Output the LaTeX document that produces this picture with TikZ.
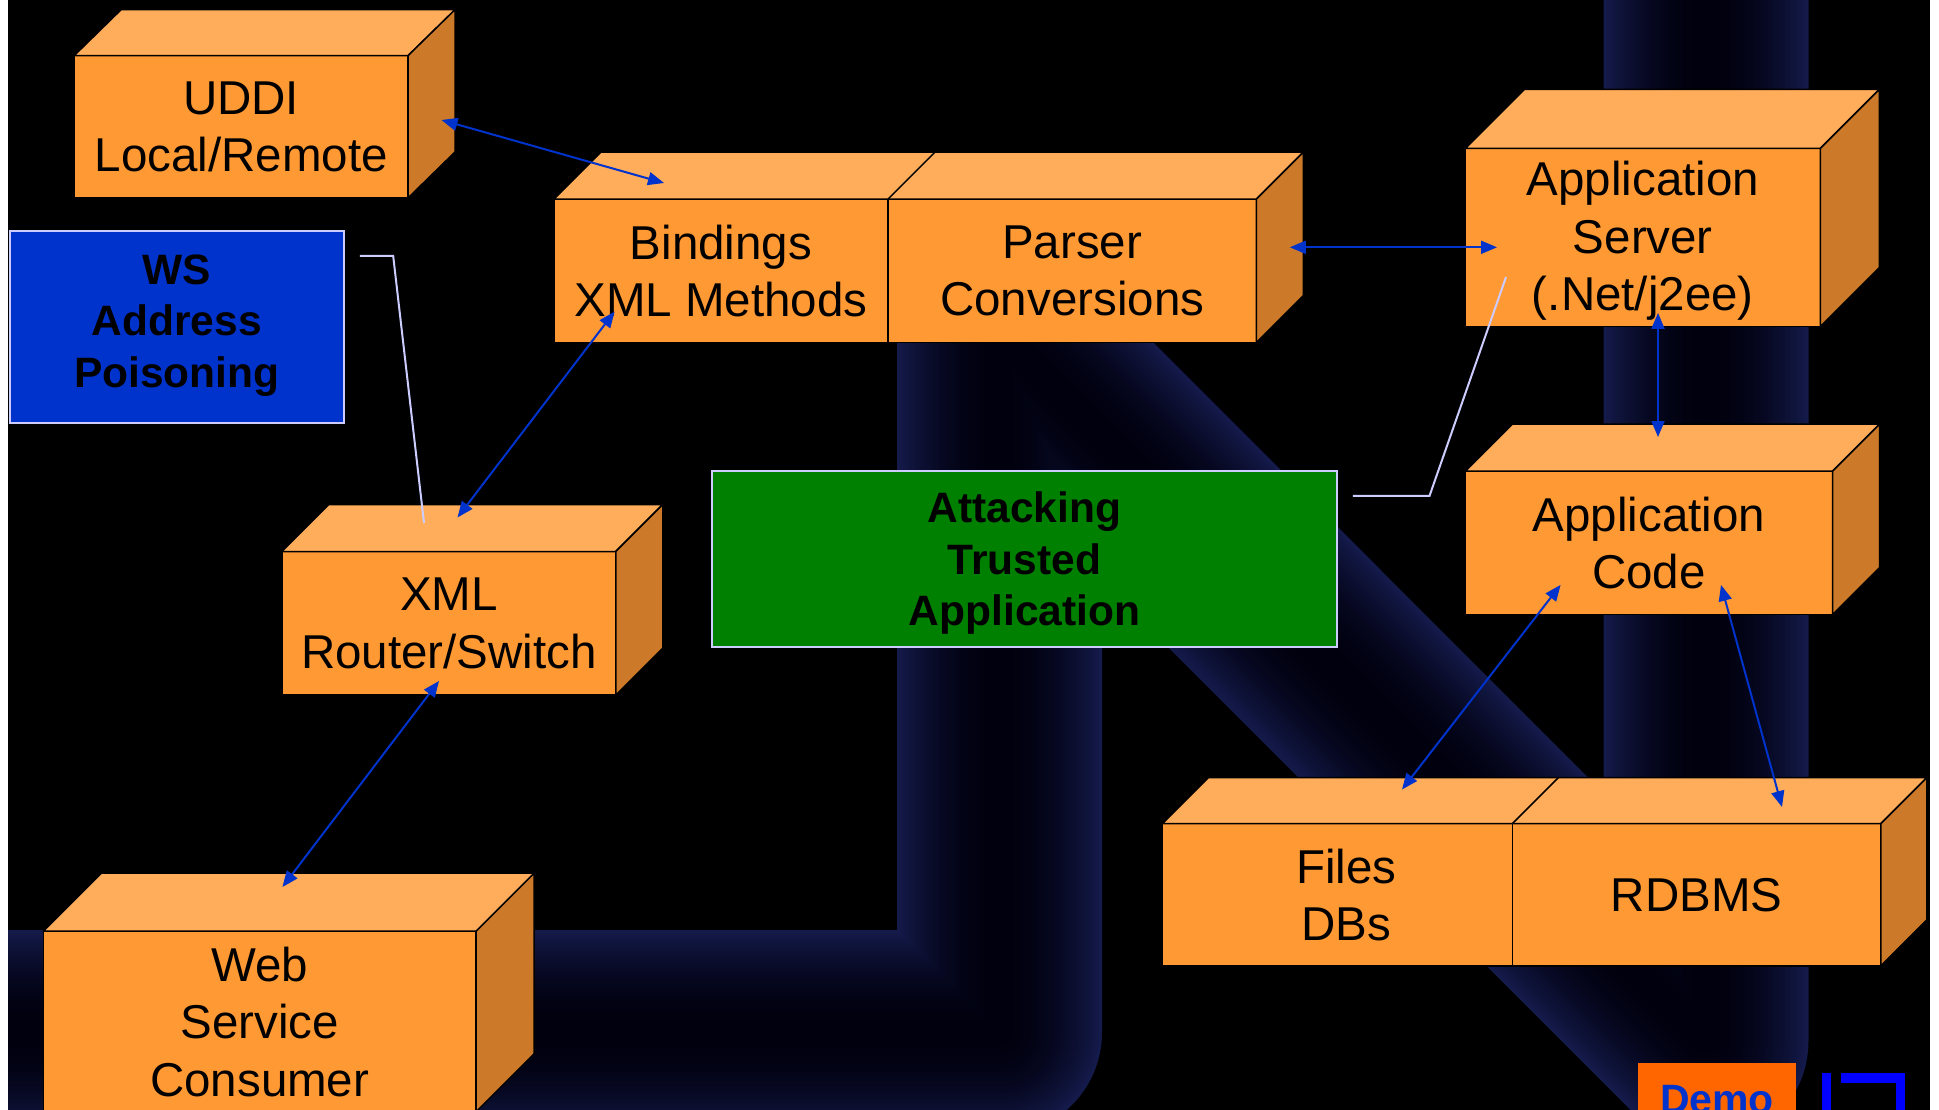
\documentclass[tikz,border=0pt]{standalone}
\usepackage{fontspec}
\setmainfont{Liberation Sans}
\usetikzlibrary{arrows.meta,calc}

\definecolor{pipeEdge}{RGB}{20,26,74}
\definecolor{pipeDark}{RGB}{0,0,14}
\definecolor{faceFront}{RGB}{255,153,51}
\definecolor{faceTop}{RGB}{255,173,91}
\definecolor{faceSide}{RGB}{204,122,41}
\definecolor{linkBlue}{RGB}{0,51,204}
\definecolor{wsBlue}{RGB}{0,51,204}
\definecolor{trustGreen}{RGB}{0,128,0}
\definecolor{noteLine}{RGB}{204,204,255}
\definecolor{demoOrange}{RGB}{255,102,0}
\definecolor{iconBlue}{RGB}{0,0,255}

% last line of a label: keep its descenders out of the centring
\newcommand\lastline[1]{\raisebox{0pt}[\height][0pt]{#1}}

% top and right faces of a cuboid whose front face is node #1, depth (#2,#3)
\newcommand\cubeback[3]{%
  \filldraw[topface] (#1.north west) -- ++(#2,-#3) -- ($(#1.north east)+(#2,-#3)$) -- (#1.north east) -- cycle;
  \filldraw[sideface] (#1.north east) -- ++(#2,-#3) -- ($(#1.south east)+(#2,-#3)$) -- (#1.south east) -- cycle;}

\begin{document}
\begin{tikzpicture}[x=1pt,y=-1pt,
  front/.style={draw=black, line width=1.5pt, fill=faceFront, inner sep=0pt, outer sep=0pt,
    align=center, font=\fontsize{47.5}{57.5}\selectfont},
  topface/.style={draw=black, line width=1.5pt, fill=faceTop, line join=round},
  sideface/.style={draw=black, line width=1.5pt, fill=faceSide, line join=round},
  panel/.style={draw=noteLine, line width=2pt, inner sep=0pt, outer sep=0pt,
    align=center, font=\fontsize{42.5}{51.5}\selectfont\bfseries},
  link/.style={linkBlue, line width=2pt,
    {Triangle[length=16pt,width=13pt]}-{Triangle[length=16pt,width=13pt]}},
  note/.style={noteLine, line width=2pt}]

\useasboundingbox (0,0) rectangle (1939,1110);
\clip (0,0) rectangle (1939,1110);

% slide background
\fill[white] (0,0) rectangle (1939,1110);
\fill[black] (8,0) rectangle (1930,1110);

% shaded tube running behind the diagram
\begin{scope}
  \clip (8,0) rectangle (1930,1110);
  \foreach \k in {0,...,29}{
    \pgfmathsetmacro\r{1-\k/30}
    \pgfmathsetmacro\w{205*\r}
    \pgfmathsetmacro\f{100*\r*\r}
    \draw[line width=\w pt, color=pipeEdge!\f!pipeDark, line join=round, line cap=butt]
      (-60,1032.5) -- (999.5,1032.5) -- (999.5,333.5) -- (1706,1040.5) -- (1706,-60);
  }
\end{scope}

% cuboids
\node[front, minimum width=333.9pt, minimum height=142.3pt] (uddi) at (241.15,126.75)
  {UDDI\\\lastline{Local/Remote}};
\cubeback{uddi}{47}{46}

\node[front, minimum width=334pt, minimum height=143.4pt] (bind) at (721,270.8)
  {Bindings\\\lastline{XML Methods}};
\node[front, minimum width=368.4pt, minimum height=143.4pt] (pars) at (1072.2,270.8)
  {Parser\\\lastline{Conversions}};
\filldraw[topface] (bind.north west) -- ++(47,-47) -- ($(pars.north east)+(47,-47)$) -- (pars.north east) -- cycle;
\draw[topface] (pars.north west) -- ++(47,-47);
\filldraw[sideface] (pars.north east) -- ++(47,-47) -- ($(pars.south east)+(47,-47)$) -- (pars.south east) -- cycle;

\node[front, minimum width=354.9pt, minimum height=178.1pt] (srv) at (1642.85,237.45)
  {Application\\Server\\\raisebox{0pt}[\height][3pt]{(.Net/j2ee)}};
\cubeback{srv}{59}{59}

\node[front, minimum width=367.2pt, minimum height=143.5pt] (code) at (1649,542.85)
  {Application\\\lastline{Code}};
\cubeback{code}{47}{47}

\node[front, minimum width=333.9pt, minimum height=143.5pt] (router) at (448.85,623.25)
  {XML\\\lastline{Router/Switch}};
\cubeback{router}{47}{47}

\node[front, minimum width=350pt, minimum height=142.2pt] (files) at (1337.4,894.7)
  {\hspace*{18pt}Files\\\hspace*{18pt}\lastline{DBs}};
\node[front, minimum width=368.5pt, minimum height=142.2pt] (rdbms) at (1696.65,894.7)
  {RDBMS};
\filldraw[topface] (files.north west) -- ++(46,-46) -- ($(rdbms.north east)+(46,-46)$) -- (rdbms.north east) -- cycle;
\draw[topface] (rdbms.north west) -- ++(46,-46);
\filldraw[sideface] (rdbms.north east) -- ++(46,-46) -- ($(rdbms.south east)+(46,-46)$) -- (rdbms.south east) -- cycle;

\node[front, minimum width=432.8pt, minimum height=180.6pt] (cons) at (259.7,1021.5)
  {Web\\Service\\\lastline{Consumer}};
\cubeback{cons}{58}{58}

% flat panels
\node[panel, fill=wsBlue, minimum width=333.9pt, minimum height=191.7pt] (ws) at (176.85,327.05)
  {WS\\Address\\\raisebox{0pt}[\height][12pt]{Poisoning}};
\node[panel, fill=trustGreen, minimum width=624.5pt, minimum height=175.6pt] (trust) at (1024.55,558.9)
  {Attacking\\Trusted\\\lastline{Application}};

% connector end points
\coordinate (uddiEnd) at (441.5,120);
\coordinate (bindTop) at (664,183);
\coordinate (bindIn) at (614.6,311.6);
\coordinate (routerTop) at (457.5,517.5);
\coordinate (parsSide) at (1289.8,247.3);
\coordinate (srvIn) at (1497,247.3);
\coordinate (srvLow) at (1658,312.9);
\coordinate (codeTop) at (1658,437);
\coordinate (codeL) at (1560.6,584.9);
\coordinate (filesTop) at (1402,789.5);
\coordinate (codeR) at (1721,584.9);
\coordinate (rdbmsTop) at (1782,807);
\coordinate (routerIn) at (439,681);
\coordinate (consTop) at (282.5,887);

\draw[link] (uddiEnd) -- (bindTop);
\draw[link] (bindIn) -- (routerTop);
\draw[link] (parsSide) -- (srvIn);
\draw[link] (srvLow) -- (codeTop);
\draw[link] (codeL) -- (filesTop);
\draw[link] (codeR) -- (rdbmsTop);
\draw[link] (routerIn) -- (consTop);

% callout leaders
\coordinate (wsA) at (359.9,256);
\coordinate (wsB) at (393.2,256);
\coordinate (wsC) at (424,523);
\coordinate (trA) at (1352.8,495.9);
\coordinate (trB) at (1429.5,495.9);
\coordinate (trC) at (1506,277);
\draw[note] (wsA) -- (wsB) -- (wsC);
\draw[note] (trA) -- (trB) -- (trC);

% demo button and icon
\node[fill=demoOrange, minimum width=158pt, minimum height=72pt, inner sep=0pt, outer sep=0pt,
  anchor=north west, text=wsBlue, font=\fontsize{41}{48}\selectfont\bfseries] (demo) at (1638,1063.3) {Demo};
\fill[iconBlue] (1822,1073) rectangle (1831,1115);
\fill[iconBlue] (1841,1073) rectangle (1905,1083);
\fill[iconBlue] (1896,1073) rectangle (1905,1115);

\end{tikzpicture}
\end{document}
